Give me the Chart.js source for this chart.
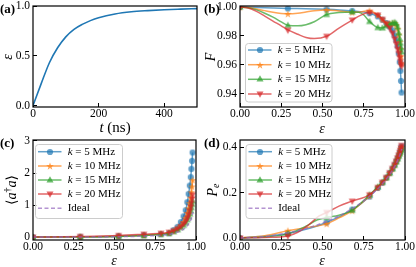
<!DOCTYPE html>
<html><head><meta charset="utf-8">
<script src="https://cdn.jsdelivr.net/npm/chart.js@4"></script>
<style>
html,body{margin:0;padding:0;background:#fff;}
#wrap{position:relative;width:416px;height:267px;overflow:hidden;}
canvas{position:absolute;left:0;top:0;}
</style></head><body>
<div id="wrap">
<canvas id="ca" width="416" height="267"></canvas>
<canvas id="cb" width="416" height="267"></canvas>
<canvas id="cc" width="416" height="267"></canvas>
<canvas id="cd" width="416" height="267"></canvas>
</div>
<script>
// ---------------- data ----------------
// (a) epsilon vs t
const tA   = [0, 25, 50, 75, 100, 125, 150, 175, 200, 250, 300, 350, 400, 450, 500];
const epsA = [0, 0.22, 0.43, 0.58, 0.69, 0.765, 0.815, 0.853, 0.882, 0.92, 0.942, 0.954, 0.963, 0.969, 0.974];

// marker positions in epsilon (shared by b, c, d)
const E = [0, 0.29, 0.525, 0.68, 0.785, 0.835, 0.863, 0.887, 0.907, 0.924, 0.937, 0.947, 0.955, 0.962, 0.968, 0.972, 0.976, 0.979];

const KVALS = [5, 10, 15, 20];

// (b) fidelity at markers
const F5  = [1.0, 0.999, 0.9984, 0.9973, 0.9957, 0.9935, 0.9912, 0.989, 0.9865, 0.984, 0.9805, 0.977, 0.973, 0.968, 0.962, 0.956, 0.949, 0.941];
const F10 = [1.0, 0.9953, 0.998, 0.9963, 0.9975, 0.9945, 0.9915, 0.989, 0.9885, 0.9888, 0.989, 0.9875, 0.985, 0.981, 0.976, 0.971, 0.966, 0.961];
const F15 = [1.0, 0.9873, 0.9948, 0.9966, 0.9900, 0.9858, 0.9855, 0.987, 0.9883, 0.989, 0.9893, 0.9885, 0.986, 0.982, 0.978, 0.975, 0.972, 0.969];
const F20 = [1.0, 0.9840, 0.9798, 0.9910, 0.9962, 0.9945, 0.9915, 0.9885, 0.9855, 0.982, 0.978, 0.9745, 0.971, 0.968, 0.965, 0.9625, 0.9605, 0.959];
// (b) curve points read between markers (early part)
const B5x  = [0, 0.1, 0.2, 0.29, 0.4, 0.525, 0.6, 0.68, 0.785];
const B5y  = [1.0, 0.9997, 0.9993, 0.999, 0.9988, 0.9984, 0.998, 0.9973, 0.9957];
const B10x = [0, 0.05, 0.1, 0.15, 0.2, 0.25, 0.29, 0.35, 0.4, 0.45, 0.525, 0.6, 0.68, 0.73, 0.785];
const B10y = [1.0, 0.9996, 0.9987, 0.9975, 0.9964, 0.9956, 0.9953, 0.9957, 0.9966, 0.9975, 0.998, 0.9972, 0.9963, 0.9966, 0.9975];
const B15x = [0, 0.05, 0.1, 0.15, 0.2, 0.25, 0.29, 0.35, 0.4, 0.45, 0.525, 0.6, 0.68, 0.72, 0.75, 0.785];
const B15y = [1.0, 0.9995, 0.998, 0.9957, 0.993, 0.9898, 0.9874, 0.987, 0.9878, 0.9898, 0.9948, 0.9962, 0.9966, 0.9963, 0.9945, 0.99];
const B20x = [0, 0.05, 0.1, 0.15, 0.2, 0.25, 0.29, 0.35, 0.4, 0.45, 0.525, 0.6, 0.68, 0.73, 0.785];
const B20y = [1.0, 0.9993, 0.997, 0.9937, 0.9903, 0.987, 0.9842, 0.9812, 0.979, 0.9782, 0.9798, 0.9855, 0.991, 0.9942, 0.9962];

// (c) photon number at markers
const N5  = [0, 0.01, 0.03, 0.06, 0.09, 0.12, 0.22, 0.32, 0.47, 0.65, 0.84, 1.09, 1.35, 1.61, 1.87, 2.13, 2.38, 2.64];
const N10 = [0, 0.01, 0.03, 0.06, 0.1, 0.13, 0.19, 0.27, 0.36, 0.47, 0.6, 0.75, 0.9, 1.06, 1.23, 1.4, 1.58, 1.78];
const N15 = [0, 0.0, 0.02, 0.05, 0.09, 0.12, 0.17, 0.23, 0.3, 0.37, 0.45, 0.54, 0.63, 0.72, 0.82, 0.92, 1.02, 1.12];
const N20 = [0, 0.02, 0.05, 0.09, 0.12, 0.15, 0.2, 0.26, 0.33, 0.41, 0.5, 0.6, 0.7, 0.82, 0.94, 1.06, 1.19, 1.32];
const CIx = [0, 0.2, 0.4, 0.55, 0.7, 0.8, 0.85, 0.9, 0.93, 0.95, 0.965, 0.975, 0.981];
const CIy = [0, 0, 0.005, 0.015, 0.035, 0.065, 0.1, 0.18, 0.27, 0.38, 0.5, 0.64, 0.78];

// (d) excited population at markers
const P5  = [0, 0.02, 0.068, 0.125, 0.182, 0.22, 0.243, 0.265, 0.285, 0.305, 0.322, 0.337, 0.35, 0.362, 0.374, 0.383, 0.394, 0.403];
const P10 = [0, 0.032, 0.062, 0.12, 0.185, 0.222, 0.245, 0.266, 0.286, 0.305, 0.322, 0.337, 0.35, 0.362, 0.373, 0.382, 0.392, 0.4];
const P15 = [0, 0.018, 0.09, 0.122, 0.19, 0.225, 0.245, 0.265, 0.285, 0.304, 0.32, 0.335, 0.348, 0.36, 0.37, 0.378, 0.387, 0.395];
const P20 = [0, 0.009, 0.112, 0.162, 0.19, 0.222, 0.245, 0.266, 0.287, 0.306, 0.323, 0.338, 0.352, 0.364, 0.376, 0.386, 0.397, 0.407];
const D10x = [0, 0.15, 0.29, 0.4, 0.525, 0.6, 0.68];
const D10y = [0, 0.01, 0.032, 0.045, 0.062, 0.088, 0.12];
const D15x = [0, 0.15, 0.29, 0.4, 0.47, 0.525, 0.6, 0.68];
const D15y = [0, 0.004, 0.018, 0.052, 0.08, 0.09, 0.1, 0.122];
const D20x = [0, 0.15, 0.29, 0.35, 0.42, 0.48, 0.525, 0.6, 0.68];
const D20y = [0, 0.002, 0.009, 0.025, 0.06, 0.097, 0.112, 0.14, 0.162];
const DIx = [0, 0.1, 0.2, 0.3, 0.4, 0.5, 0.6, 0.7, 0.75, 0.8, 0.85, 0.9, 0.94, 0.97, 0.981];
const DIy = [0, 0.003, 0.011, 0.024, 0.042, 0.066, 0.097, 0.138, 0.163, 0.193, 0.228, 0.272, 0.318, 0.368, 0.392];

// tick values and labels
const tickA_x = [0, 200, 400],            labA_x = ['0', '200', '400'];
const tickA_y = [0, 0.5, 1.0],            labA_y = ['0.0', '0.5', '1.0'];
const tickE   = [0, 0.25, 0.5, 0.75, 1.0], labE  = ['0.00', '0.25', '0.50', '0.75', '1.00'];
const tickB_y = [0.94, 0.96, 0.98, 1.00], labB_y = ['0.94', '0.96', '0.98', '1.00'];
const tickC_y = [0, 1, 2, 3],             labC_y = ['0', '1', '2', '3'];
const tickD_y = [0, 0.2, 0.4],            labD_y = ['0.0', '0.2', '0.4'];

// ---------------- styling ----------------
const W = 416, H = 267, XH = 20;
const SERIF = "'Liberation Serif','DejaVu Serif',serif";
const COLS = ['31,119,180', '255,127,14', '44,160,44', '214,39,40'];
const IDEAL_COL = '148,103,189';
const SHAPES = ['circle', 'star', 'triUp', 'triDown'];
const ALPHA = 0.7;
function rgba(c, a) { return 'rgba(' + c + ',' + a + ')'; }
function mkFont(style, size) { return style + ' ' + size + 'px ' + SERIF; }

function makeMarker(shape, c) {
  const S = 10, m = 5;
  const cv = document.createElement('canvas'); cv.width = S; cv.height = S;
  const g = cv.getContext('2d');
  g.fillStyle = rgba(c, ALPHA);
  g.beginPath();
  if (shape === 'circle') g.arc(m, m, 3.1, 0, 2 * Math.PI);
  else if (shape === 'star') {
    for (let i = 0; i < 10; i++) {
      const r = i % 2 ? 1.6 : 4.0, a = -Math.PI / 2 + i * Math.PI / 5;
      g.lineTo(m + r * Math.cos(a), m + 0.4 + r * Math.sin(a));
    }
    g.closePath();
  } else if (shape === 'triUp') {
    g.moveTo(m, m - 3.7); g.lineTo(m + 3.5, m + 2.5); g.lineTo(m - 3.5, m + 2.5); g.closePath();
  } else {
    g.moveTo(m, m + 3.7); g.lineTo(m + 3.5, m - 2.5); g.lineTo(m - 3.5, m - 2.5); g.closePath();
  }
  g.fill();
  return cv;
}
const MARKERS = SHAPES.map((s, i) => makeMarker(s, COLS[i]));

function pts(xs, ys) { return xs.map((x, i) => ({ x: x, y: ys[i] })); }
function withTail(ex, ey, mx, my) {
  const last = ex[ex.length - 1], xs = ex.slice(), ys = ey.slice();
  mx.forEach((x, i) => { if (x > last + 1e-9) { xs.push(x); ys.push(my[i]); } });
  return pts(xs, ys);
}

function panelSets(lines, markY, ideal) {
  const ds = [];
  for (let i = 0; i < 4; i++) {
    ds.push({ data: lines[i], showLine: true, borderColor: rgba(COLS[i], ALPHA), borderWidth: 1.5,
      pointRadius: 0, cubicInterpolationMode: 'monotone', fill: false });
    ds.push({ data: pts(E, markY[i]), showLine: false, pointStyle: MARKERS[i], pointRadius: 3 });
  }
  if (ideal) ds.push({ data: ideal, showLine: true, borderColor: rgba(IDEAL_COL, ALPHA), borderWidth: 1.5,
    borderDash: [4, 2.5], pointRadius: 0, cubicInterpolationMode: 'monotone', fill: false });
  ds.forEach((d, i) => { d.order = -i; });
  return ds;
}

function drawRich(ctx, parts, x, y, rotate, align) {
  ctx.save();
  ctx.translate(x, y);
  if (rotate) ctx.rotate(-Math.PI / 2);
  ctx.textBaseline = 'middle'; ctx.textAlign = 'left'; ctx.fillStyle = '#000';
  let w = 0;
  parts.forEach(p => { ctx.font = p.f; p.w = ctx.measureText(p.t).width; w += p.w; });
  let cx = align === 'left' ? 0 : -w / 2;
  parts.forEach(p => { ctx.font = p.f; ctx.fillText(p.t, cx, p.dy || 0); cx += p.w; });
  ctx.restore();
}

function roundRectPath(ctx, x, y, w, h, r) {
  ctx.beginPath();
  ctx.moveTo(x + r, y); ctx.lineTo(x + w - r, y); ctx.arcTo(x + w, y, x + w, y + r, r);
  ctx.lineTo(x + w, y + h - r); ctx.arcTo(x + w, y + h, x + w - r, y + h, r);
  ctx.lineTo(x + r, y + h); ctx.arcTo(x, y + h, x, y + h - r, r);
  ctx.lineTo(x, y + r); ctx.arcTo(x, y, x + r, y, r); ctx.closePath();
}

function kRows(withIdeal) {
  const rows = KVALS.map((k, i) => ({
    color: rgba(COLS[i], ALPHA), marker: MARKERS[i],
    parts: [{ t: 'k', f: mkFont('italic', 11) }, { t: ' = ' + k + ' MHz', f: mkFont('normal', 11) }]
  }));
  if (withIdeal) rows.push({ color: rgba(IDEAL_COL, ALPHA), dash: [4, 2.5], parts: [{ t: 'Ideal', f: mkFont('normal', 11) }] });
  return rows;
}

function legendPlugin(cfg) {
  return { id: 'lg', afterDatasetsDraw(chart) {
    const ctx = chart.ctx; ctx.save();
    roundRectPath(ctx, cfg.x + 0.5, cfg.y + 0.5, cfg.w, cfg.h, 3);
    ctx.fillStyle = 'rgba(255,255,255,0.8)'; ctx.fill();
    ctx.strokeStyle = '#cccccc'; ctx.lineWidth = 1; ctx.stroke();
    cfg.rows.forEach((r, i) => {
      const y = cfg.rowY[i], x0 = cfg.x;
      ctx.beginPath(); ctx.moveTo(x0 + 3, y); ctx.lineTo(x0 + 26.5, y);
      ctx.strokeStyle = r.color; ctx.lineWidth = 1.5; ctx.setLineDash(r.dash || []); ctx.stroke(); ctx.setLineDash([]);
      if (r.marker) ctx.drawImage(r.marker, Math.round(x0 + 14.75 - r.marker.width / 2), Math.round(y - r.marker.height / 2));
      drawRich(ctx, r.parts, x0 + 32.7, y, false, 'left');
    });
    ctx.restore();
  } };
}

function textPlugin(items) {
  return { id: 'txt', afterDraw(chart) {
    const ctx = chart.ctx;
    items.forEach(it => drawRich(ctx, it.parts, it.x, it.y, it.rot, it.align));
  } };
}

const framePlugin = { id: 'frame', afterDraw(chart) {
  const ctx = chart.ctx, a = chart.chartArea;
  ctx.save(); ctx.strokeStyle = '#000'; ctx.lineWidth = 1.2;
  ctx.strokeRect(a.left, a.top, a.right - a.left, a.bottom - a.top); ctx.restore();
} };

function build(id, area, xs, ys, datasets, extraPlugins) {
  const tickFont = { family: SERIF, size: 11.5 };
  const axis = (s, isX) => ({
    type: 'linear', min: s.min, max: s.max,
    border: { display: false },
    grid: { drawOnChartArea: false, drawTicks: true, tickLength: -4, color: '#000', lineWidth: 1 },
    ticks: { font: tickFont, color: '#000', padding: isX ? 4 : 7, maxRotation: 0, autoSkip: false,
      callback: (v, i) => s.labels[i] },
    afterBuildTicks: sc => { sc.ticks = s.ticks.map(v => ({ value: v })); },
    afterFit: sc => {
      if (isX) sc.height = XH; else sc.width = area.l;
      sc.paddingLeft = 0; sc.paddingRight = 0; sc.paddingTop = 0; sc.paddingBottom = 0;
    }
  });
  return new Chart(document.getElementById(id), {
    type: 'scatter',
    data: { datasets: datasets },
    options: {
      responsive: false, animation: false, events: [], devicePixelRatio: 1,
      layout: { padding: { left: 0, top: area.t, right: W - area.r, bottom: H - area.b - XH } },
      plugins: { legend: { display: false }, tooltip: { enabled: false } },
      scales: { x: axis(xs, true), y: axis(ys, false) }
    },
    plugins: [framePlugin].concat(extraPlugins)
  });
}

const fT = mkFont('italic', 14), fN = mkFont('normal', 14);

// ---------------- (a) ----------------
build('ca', { l: 33, t: 6, r: 197, b: 107 },
  { min: 0, max: 500, ticks: tickA_x, labels: labA_x },
  { min: -0.015, max: 1.0, ticks: tickA_y, labels: labA_y },
  [{ data: pts(tA, epsA), showLine: true, borderColor: '#1f77b4', borderWidth: 1.6, pointRadius: 0, cubicInterpolationMode: 'monotone', fill: false }],
  [textPlugin([
    { parts: [{ t: '(a)', f: mkFont('bold', 13) }], x: 0, y: 10, align: 'left' },
    { parts: [{ t: 'ε', f: fT }], x: 8, y: 57, rot: true },
    { parts: [{ t: 't', f: mkFont('italic', 15) }, { t: ' (ns)', f: mkFont('normal', 15) }], x: 115, y: 128 }
  ])]);

// ---------------- (b) ----------------
build('cb', { l: 240, t: 6, r: 405, b: 107 },
  { min: 0, max: 1.0, ticks: tickE, labels: labE },
  { min: 0.931, max: 1.0007, ticks: tickB_y, labels: labB_y },
  panelSets([withTail(B5x, B5y, E, F5), withTail(B10x, B10y, E, F10), withTail(B15x, B15y, E, F15), withTail(B20x, B20y, E, F20)],
            [F5, F10, F15, F20], null),
  [legendPlugin({ x: 245, y: 43, w: 86.5, h: 58.5, rowY: [50, 64.7, 79.3, 94], rows: kRows(false) }),
   textPlugin([
    { parts: [{ t: '(b)', f: mkFont('bold', 13) }], x: 204, y: 10, align: 'left' },
    { parts: [{ t: 'F', f: fT }], x: 211, y: 57, rot: true },
    { parts: [{ t: 'ε', f: fT }], x: 322, y: 129 }
  ])]);

// ---------------- (c) ----------------
build('cc', { l: 33, t: 140, r: 196, b: 240 },
  { min: 0, max: 1.0, ticks: tickE, labels: labE },
  { min: -0.09, max: 3.03, ticks: tickC_y, labels: labC_y },
  panelSets([pts(E, N5), pts(E, N10), pts(E, N15), pts(E, N20)], [N5, N10, N15, N20], pts(CIx, CIy)),
  [legendPlugin({ x: 35, y: 144, w: 87, h: 74, rowY: [151.7, 166, 180, 194, 208.3], rows: kRows(true) }),
   textPlugin([
    { parts: [{ t: '(c)', f: mkFont('bold', 13) }], x: 0, y: 144, align: 'left' },
    { parts: [{ t: '⟨', f: fN }, { t: 'a', f: fT }, { t: '†', f: mkFont('normal', 10), dy: -4 }, { t: 'a', f: fT }, { t: '⟩', f: fN }], x: 12, y: 190, rot: true },
    { parts: [{ t: 'ε', f: fT }], x: 114, y: 261 }
  ])]);

// ---------------- (d) ----------------
build('cd', { l: 240, t: 140, r: 405, b: 240 },
  { min: 0, max: 1.0, ticks: tickE, labels: labE },
  { min: -0.009, max: 0.431, ticks: tickD_y, labels: labD_y },
  panelSets([pts(E, P5), withTail(D10x, D10y, E, P10), withTail(D15x, D15y, E, P15), withTail(D20x, D20y, E, P20)],
            [P5, P10, P15, P20], pts(DIx, DIy)),
  [legendPlugin({ x: 245.5, y: 144, w: 86, h: 74, rowY: [151.7, 166, 180, 194, 208.3], rows: kRows(true) }),
   textPlugin([
    { parts: [{ t: '(d)', f: mkFont('bold', 13) }], x: 204, y: 144, align: 'left' },
    { parts: [{ t: 'P', f: fT }, { t: 'e', f: mkFont('italic', 10), dy: 3 }], x: 213, y: 190, rot: true },
    { parts: [{ t: 'ε', f: fT }], x: 322, y: 261 }
  ])]);
</script>
</body></html>
